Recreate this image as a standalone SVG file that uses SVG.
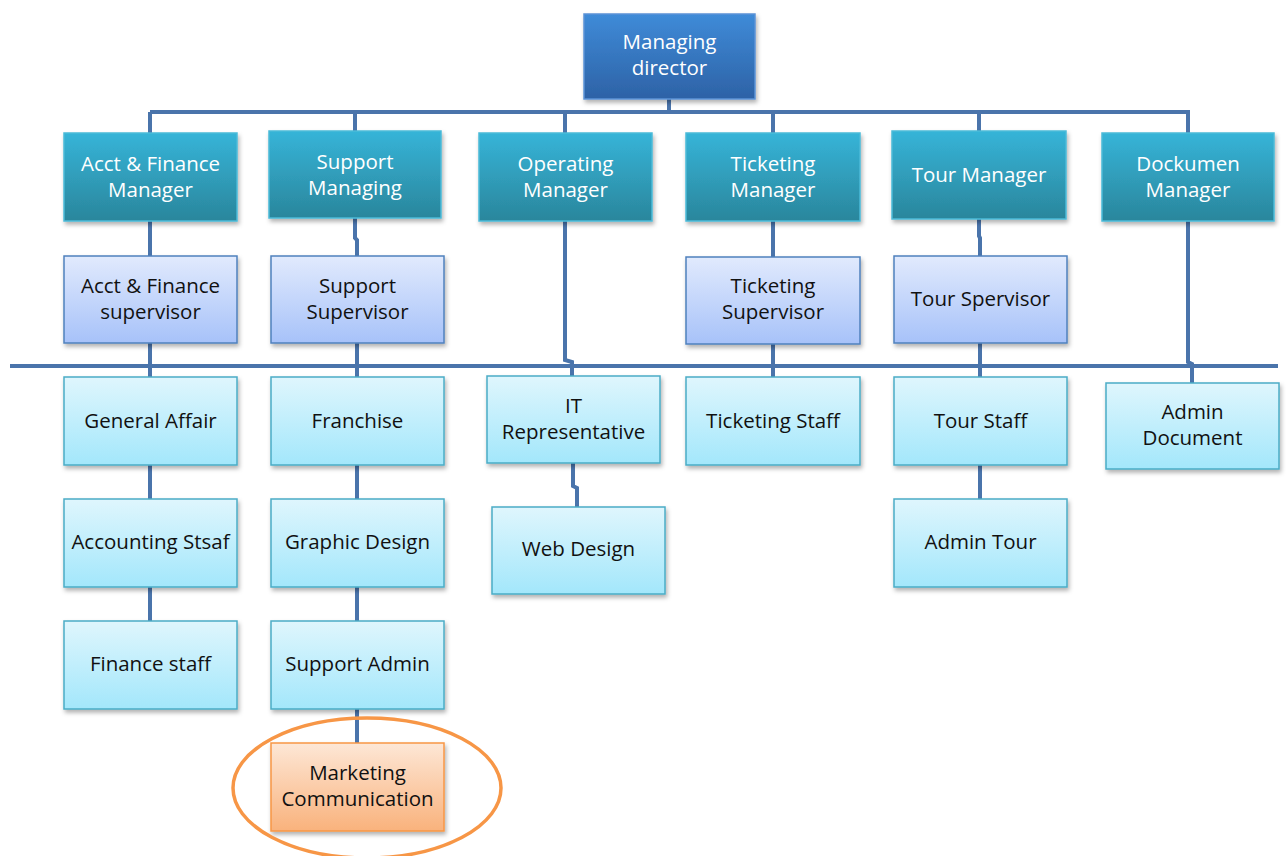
<svg xmlns="http://www.w3.org/2000/svg" width="1288" height="856" viewBox="0 0 1288 856">
<defs>
<linearGradient id="gMD" x1="0" y1="0" x2="0" y2="1"><stop offset="0" stop-color="#3f8bd8"/><stop offset="1" stop-color="#2d62a6"/></linearGradient>
<linearGradient id="gMgr" x1="0" y1="0" x2="0" y2="1"><stop offset="0" stop-color="#36b4d8"/><stop offset="1" stop-color="#2a869c"/></linearGradient>
<linearGradient id="gSup" x1="0" y1="0" x2="0" y2="1"><stop offset="0" stop-color="#e1eafd"/><stop offset="1" stop-color="#a7c2f9"/></linearGradient>
<linearGradient id="gStf" x1="0" y1="0" x2="0" y2="1"><stop offset="0" stop-color="#dff6fd"/><stop offset="1" stop-color="#a3e7fb"/></linearGradient>
<linearGradient id="gOr" x1="0" y1="0" x2="0" y2="1"><stop offset="0" stop-color="#fde7d6"/><stop offset="1" stop-color="#f9b27c"/></linearGradient>
<filter id="sh" x="-10%" y="-10%" width="125%" height="130%"><feDropShadow dx="1.5" dy="3" stdDeviation="2" flood-color="#000" flood-opacity="0.3"/></filter>
</defs>
<style>
.md{fill:url(#gMD);stroke:#5b93d6;stroke-width:1.5;filter:url(#sh)}
.mg{fill:url(#gMgr);stroke:#4bbad8;stroke-width:1.5;filter:url(#sh)}
.sp{fill:url(#gSup);stroke:#4f81bd;stroke-width:1.5;filter:url(#sh)}
.sf{fill:url(#gStf);stroke:#4bacc6;stroke-width:1.5;filter:url(#sh)}
.or{fill:url(#gOr);stroke:#f79646;stroke-width:1.5;filter:url(#sh)}
text{font-family:"Open Sans","Liberation Sans",sans-serif;font-size:20.5px;text-anchor:middle}
.w{fill:#ffffff}
.k{fill:#111111}
.ln{fill:none;stroke:#4a74ab;stroke-width:4}
</style>
<g id="connectors">
<path class="ln" d="M669 99V112M150 112H1190M150 112V133M355 112V131M565 112V133M773 112V133M979 112V131M1188 112V133"/>
<path class="ln" d="M10 366H1278"/>
<path class="ln" d="M150 221V256M150 343V377M150 465V499M150 587V621"/>
<path class="ln" d="M355 218V238L357 240V256M357 343V377M357 465V499M357 587V621M357 709V743"/>
<path class="ln" d="M565 221V360L572 362V376M573 463V486L577 488V507"/>
<path class="ln" d="M773 221V257M773 344V377"/>
<path class="ln" d="M979 219V236L980 238V256M980 343V377M980 465V499"/>
<path class="ln" d="M1188 221V362L1192 364V383"/>
</g>
<g id="md"><rect class="md" x="584" y="14" width="171" height="85"/><text class="w" x="669.5" y="49">Managing</text><text class="w" x="669.5" y="75">director</text></g>
<g id="m1"><rect class="mg" x="64" y="133" width="173" height="88"/><text class="w" x="150.5" y="171">Acct &amp; Finance</text><text class="w" x="150.5" y="197">Manager</text></g>
<g id="m2"><rect class="mg" x="269" y="131" width="172" height="87"/><text class="w" x="355" y="169">Support</text><text class="w" x="355" y="195">Managing</text></g>
<g id="m3"><rect class="mg" x="479" y="133" width="173" height="88"/><text class="w" x="565.5" y="171">Operating</text><text class="w" x="565.5" y="197">Manager</text></g>
<g id="m4"><rect class="mg" x="686" y="133" width="174" height="88"/><text class="w" x="773" y="171">Ticketing</text><text class="w" x="773" y="197">Manager</text></g>
<g id="m5"><rect class="mg" x="892" y="131" width="174" height="88"/><text class="w" x="979" y="182">Tour Manager</text></g>
<g id="m6"><rect class="mg" x="1102" y="133" width="172" height="88"/><text class="w" x="1188" y="171">Dockumen</text><text class="w" x="1188" y="197">Manager</text></g>
<g id="s1"><rect class="sp" x="64" y="256" width="173" height="87"/><text class="k" x="150.5" y="293">Acct &amp; Finance</text><text class="k" x="150.5" y="319">supervisor</text></g>
<g id="s2"><rect class="sp" x="271" y="256" width="173" height="87"/><text class="k" x="357.5" y="293">Support</text><text class="k" x="357.5" y="319">Supervisor</text></g>
<g id="s4"><rect class="sp" x="686" y="257" width="174" height="87"/><text class="k" x="773" y="293">Ticketing</text><text class="k" x="773" y="319">Supervisor</text></g>
<g id="s5"><rect class="sp" x="894" y="256" width="173" height="87"/><text class="k" x="980.5" y="306">Tour Spervisor</text></g>
<g id="f1"><rect class="sf" x="64" y="377" width="173" height="88"/><text class="k" x="150.5" y="428">General Affair</text></g>
<g id="f2"><rect class="sf" x="271" y="377" width="173" height="88"/><text class="k" x="357.5" y="428">Franchise</text></g>
<g id="f3"><rect class="sf" x="487" y="376" width="173" height="87"/><text class="k" x="573.5" y="413">IT</text><text class="k" x="573.5" y="439">Representative</text></g>
<g id="f4"><rect class="sf" x="686" y="377" width="174" height="88"/><text class="k" x="773" y="428">Ticketing Staff</text></g>
<g id="f5"><rect class="sf" x="894" y="377" width="173" height="88"/><text class="k" x="980.5" y="428">Tour Staff</text></g>
<g id="f6"><rect class="sf" x="1106" y="383" width="173" height="86"/><text class="k" x="1192.5" y="419">Admin</text><text class="k" x="1192.5" y="445">Document</text></g>
<g id="g1"><rect class="sf" x="64" y="499" width="173" height="88"/><text class="k" x="150.5" y="549">Accounting Stsaf</text></g>
<g id="g2"><rect class="sf" x="271" y="499" width="173" height="88"/><text class="k" x="357.5" y="549">Graphic Design</text></g>
<g id="g3"><rect class="sf" x="492" y="507" width="173" height="87"/><text class="k" x="578.5" y="556">Web Design</text></g>
<g id="g5"><rect class="sf" x="894" y="499" width="173" height="88"/><text class="k" x="980.5" y="549">Admin Tour</text></g>
<g id="h1"><rect class="sf" x="64" y="621" width="173" height="88"/><text class="k" x="150.5" y="671">Finance staff</text></g>
<g id="h2"><rect class="sf" x="271" y="621" width="173" height="88"/><text class="k" x="357.5" y="671">Support Admin</text></g>
<g id="mc"><rect class="or" x="271" y="743" width="173" height="88"/><text class="k" x="357.5" y="780">Marketing</text><text class="k" x="357.5" y="806">Communication</text></g>
<ellipse cx="367" cy="788" rx="134" ry="70" fill="none" stroke="#f79646" stroke-width="3.5"/>
</svg>
